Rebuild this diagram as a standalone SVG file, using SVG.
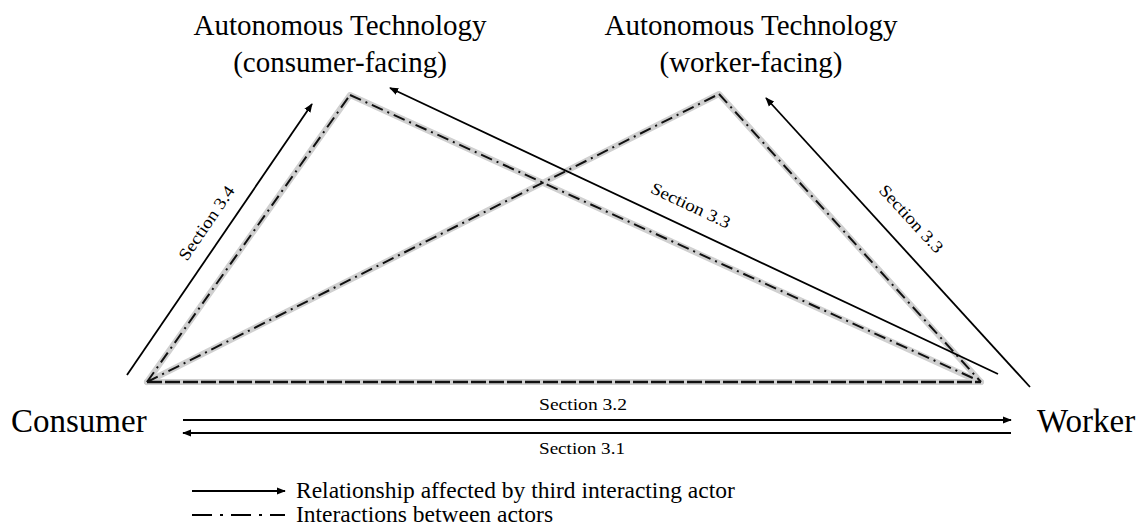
<svg xmlns="http://www.w3.org/2000/svg" width="1142" height="530" viewBox="0 0 1142 530">
<defs>
<marker id="ah" viewBox="0 0 10 10" refX="9" refY="5" markerWidth="9" markerHeight="9" markerUnits="userSpaceOnUse" orient="auto">
<path d="M0,1 L10,5 L0,9 Z" fill="#000"/>
</marker>
</defs>
<style>
.halo{stroke:#d0d0d0;stroke-width:6;fill:none;stroke-linecap:round;stroke-linejoin:round}
.dd{stroke:#111;stroke-width:2;fill:none;stroke-dasharray:12 5 2 5}
.bot{stroke:#111;stroke-width:2.4;fill:none;stroke-dasharray:15 3}
.rel{stroke:#000;stroke-width:1.8;fill:none;marker-end:url(#ah)}
text{font-family:'Liberation Serif','DejaVu Serif',serif;fill:#000}
.big{font-size:33px}
.top{font-size:29px}
.sec{font-size:17px}
.leg{font-size:23.5px}
</style>
<rect width="1142" height="530" fill="#fff"/>
<g id="connectors">
<g id="interactions">
<polyline class="halo" points="147,382 350,95 980,382"/>
<polyline class="halo" points="147,382 719,94 981,382"/>
<line class="halo" x1="147" y1="382" x2="981" y2="382"/>
<line class="dd" x1="147" y1="382" x2="350" y2="95"/>
<line class="dd" x1="350" y1="95" x2="975" y2="379"/>
<line class="dd" x1="147" y1="382" x2="719" y2="94"/>
<line class="dd" x1="719" y1="94" x2="981" y2="382"/>
<line class="bot" x1="147" y1="382" x2="981" y2="382"/>
</g>
<g id="relationships">
<line class="rel" x1="127" y1="375" x2="312" y2="104"/>
<line class="rel" x1="998" y1="374" x2="390" y2="88"/>
<line class="rel" x1="1030" y1="387" x2="766" y2="98"/>
<line class="rel" x1="183" y1="420" x2="1011" y2="420"/>
<line class="rel" x1="1011" y1="433" x2="183" y2="433"/>
</g>
<text class="sec" transform="translate(208,224) rotate(-55.7)" text-anchor="middle" dominant-baseline="middle" textLength="86" lengthAdjust="spacingAndGlyphs">Section 3.4</text>
<text class="sec" transform="translate(690,207) rotate(25.1)" text-anchor="middle" dominant-baseline="middle" textLength="86" lengthAdjust="spacingAndGlyphs">Section 3.3</text>
<text class="sec" transform="translate(910,220) rotate(47.4)" text-anchor="middle" dominant-baseline="middle" textLength="86" lengthAdjust="spacingAndGlyphs">Section 3.3</text>
<text class="sec" x="583" y="410" text-anchor="middle" textLength="88" lengthAdjust="spacingAndGlyphs">Section 3.2</text>
<text class="sec" x="582" y="454" text-anchor="middle" textLength="86" lengthAdjust="spacingAndGlyphs">Section 3.1</text>
</g>
<g id="node-consumer">
<text class="big" x="11" y="432">Consumer</text>
</g>
<g id="node-worker">
<text class="big" x="1037" y="432">Worker</text>
</g>
<g id="node-at-consumer">
<text class="top" x="340" y="35" text-anchor="middle">Autonomous Technology</text>
<text class="top" x="340" y="72" text-anchor="middle">(consumer-facing)</text>
</g>
<g id="node-at-worker">
<text class="top" x="751" y="35" text-anchor="middle">Autonomous Technology</text>
<text class="top" x="751" y="72" text-anchor="middle">(worker-facing)</text>
</g>
<g id="legend">
<line class="rel" x1="192" y1="491" x2="285" y2="491"/>
<text class="leg" x="296" y="498">Relationship affected by third interacting actor</text>
<line x1="192" y1="515" x2="285" y2="515" stroke="#000" stroke-width="2" stroke-dasharray="20 8 3 8"/>
<text class="leg" x="296" y="522">Interactions between actors</text>
</g>
</svg>
